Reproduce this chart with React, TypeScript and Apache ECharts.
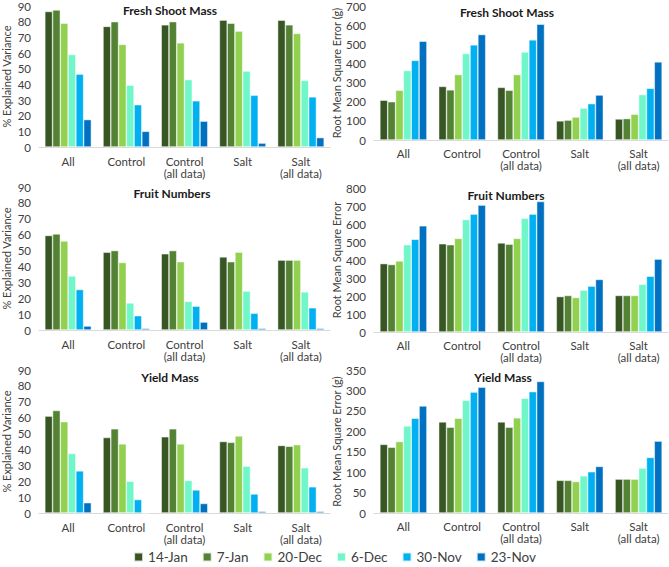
import React, { useEffect, useRef } from "react";
import * as echarts from "echarts";

const categories = ["All", "Control", "Control\n(all data)", "Salt", "Salt\n(all data)"];
const dates = ["14-Jan", "7-Jan", "20-Dec", "6-Dec", "30-Nov", "23-Nov"];
const colors = ["#375623", "#548235", "#92D050", "#6FF7C9", "#00B0F0", "#0070C0"];

// each row = one date, values across categories
const freshShootVariance = [
  [86.5, 77, 78, 81, 81],
  [87.5, 80, 80, 79, 78],
  [79, 65.5, 66.5, 74, 72.5],
  [59, 39.5, 43, 48.5, 42.5],
  [46.5, 27, 29.5, 33, 32],
  [17.5, 10, 16.5, 2.5, 6],
];
const freshShootRmse = [
  [208, 280, 275, 100, 110],
  [200, 262, 260, 104, 112],
  [260, 342, 342, 120, 135],
  [363, 452, 460, 167, 237],
  [416, 497, 523, 190, 270],
  [516, 551, 605, 235, 408],
];
const fruitVariance = [
  [59.5, 49, 48, 46, 44],
  [60.5, 50, 50, 43, 44],
  [56, 42.5, 43, 49, 44],
  [34, 17, 18, 24.5, 24],
  [25.5, 9, 15, 10.5, 14],
  [2.5, 1, 5, 1, 1],
];
const fruitRmse = [
  [380, 490, 495, 197, 203],
  [375, 485, 488, 203, 203],
  [395, 520, 520, 192, 203],
  [485, 625, 632, 233, 265],
  [515, 655, 655, 255, 310],
  [590, 705, 725, 292, 405],
];
const yieldVariance = [
  [61, 47.5, 48, 45, 42.5],
  [64.5, 53, 53, 44.5, 42],
  [57.5, 43.5, 43.5, 48.5, 43],
  [37.5, 20, 20.5, 29.5, 28.5],
  [26.5, 8.5, 14.5, 12, 16.5],
  [6.5, 0, 6, 1, 1],
];
const yieldRmse = [
  [168, 223, 223, 80, 83],
  [161, 210, 210, 80, 83],
  [175, 232, 233, 77, 83],
  [213, 276, 281, 91, 110],
  [232, 296, 297, 101, 136],
  [262, 308, 322, 114, 176],
];

const FONT = "Lato, 'Open Sans', sans-serif";
const AXIS_COLOR = "#404040";

const panels = [
  { title: "Fresh Shoot Mass", data: freshShootVariance, yName: "% Explained Variance", max: 90, interval: 10,
    grid: { left: 34, top: 5, width: 296, height: 142 }, nameGap: 27, labelMargin: 8, titleX: 170, titleY: 10 },
  { title: "Fresh Shoot Mass", data: freshShootRmse, yName: "Root Mean Square Error (g)", max: 700, interval: 100,
    grid: { left: 374, top: 5, width: 294, height: 135 }, nameGap: 31, labelMargin: 7, titleX: 507, titleY: 12 },
  { title: "Fruit Numbers", data: fruitVariance, yName: "% Explained Variance", max: 90, interval: 10,
    grid: { left: 34, top: 187, width: 296, height: 143 }, nameGap: 27, labelMargin: 8, titleX: 172, titleY: 193 },
  { title: "Fruit Numbers", data: fruitRmse, yName: "Root Mean Square Error", max: 800, interval: 100,
    grid: { left: 374, top: 188, width: 294, height: 144 }, nameGap: 31, labelMargin: 7, titleX: 506, titleY: 195 },
  { title: "Yield Mass", data: yieldVariance, yName: "% Explained Variance", max: 90, interval: 10,
    grid: { left: 34, top: 370, width: 296, height: 143 }, nameGap: 27, labelMargin: 8, titleX: 170, titleY: 377 },
  { title: "Yield Mass", data: yieldRmse, yName: "Root Mean Square Error (g)", max: 350, interval: 50,
    grid: { left: 374, top: 370, width: 294, height: 143 }, nameGap: 31, labelMargin: 7, titleX: 503, titleY: 377 },
];

export default function App() {
  const ref = useRef<HTMLDivElement>(null);
  useEffect(() => {
    document.body.style.margin = "0";
    if (!ref.current) return;
    const chart = echarts.init(ref.current, undefined, { renderer: "svg" });
    const grid: any[] = [];
    const xAxis: any[] = [];
    const yAxis: any[] = [];
    const series: any[] = [];
    const graphic: any[] = [];
    panels.forEach((p, i) => {
      grid.push({ ...p.grid, containLabel: false });
      xAxis.push({
        type: "category",
        gridIndex: i,
        data: categories,
        axisLine: { lineStyle: { color: "#d9d9d9", width: 1 } },
        axisTick: { show: false },
        axisLabel: { interval: 0, fontSize: 11.5, color: AXIS_COLOR, fontFamily: FONT, margin: p.labelMargin, lineHeight: 12 },
      });
      yAxis.push({
        type: "value",
        gridIndex: i,
        min: 0,
        max: p.max,
        interval: p.interval,
        axisLine: { show: false },
        axisTick: { show: false },
        splitLine: { show: false },
        axisLabel: { fontSize: 11.5, color: AXIS_COLOR, fontFamily: FONT, margin: 8 },
        name: p.yName,
        nameLocation: "middle",
        nameGap: p.nameGap,
        nameTextStyle: { fontSize: 11, color: AXIS_COLOR, fontFamily: FONT },
      });
      dates.forEach((d, j) => {
        series.push({
          type: "bar",
          name: d,
          xAxisIndex: i,
          yAxisIndex: i,
          data: p.data[j],
          barGap: "0%",
          barCategoryGap: "20%",
          itemStyle: { color: colors[j], borderColor: "rgba(255,255,255,0.8)", borderWidth: 0.6 },
        });
      });
      graphic.push({
        type: "text",
        x: p.titleX,
        y: p.titleY,
        style: {
          text: p.title,
          align: "center",
          verticalAlign: "middle",
          fontSize: 12,
          fontWeight: "bold",
          fontFamily: FONT,
          fill: "#1a1a1a",
        },
      });
    });
    chart.setOption({
      animation: false,
      grid,
      xAxis,
      yAxis,
      series,
      graphic,
      legend: {
        data: dates,
        left: "center",
        top: 550,
        padding: 0,
        icon: "rect",
        itemWidth: 9,
        itemHeight: 9,
        itemGap: 14,
        textStyle: { fontSize: 13.5, color: AXIS_COLOR, fontFamily: FONT },
      },
    });
    return () => chart.dispose();
  }, []);
  return <div ref={ref} style={{ width: 669, height: 567 }} />;
}
